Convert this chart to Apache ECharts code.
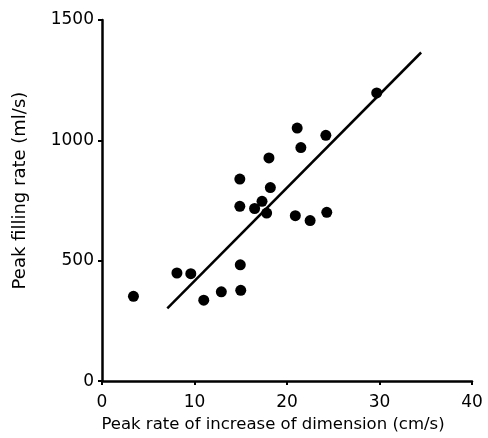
<!DOCTYPE html>
<html>
<head>
<meta charset="utf-8">
<script src="https://cdn.jsdelivr.net/npm/echarts@6/dist/echarts.min.js"></script>
<style>
html,body{margin:0;padding:0;background:#fff;}
#chart{width:488px;height:438px;}
</style>
</head>
<body>
<div id="chart"></div>
<script>
const xValues = [3.4, 8.1, 9.6, 11.0, 12.9, 15.0, 14.95, 14.9, 14.9, 16.5, 17.3, 17.8, 18.2, 18.05, 20.9, 21.1, 21.5, 22.5, 24.3, 24.2, 29.7];
const yValues = [352, 449, 446, 336, 371, 377, 483, 726, 839, 717, 747, 698, 804, 927, 687, 1051, 970, 667, 701, 1021, 1197];
const fitX = [7.06, 34.5];
const fitY = [302, 1365];
const xTicks = [0, 10, 20, 30, 40];
const yTicks = [0, 500, 1000, 1500];
const xTitle = 'Peak rate of increase of dimension (cm/s)';
const yTitle = 'Peak filling rate (ml/s)';

const font = 'DejaVu Sans';
const chart = echarts.init(document.getElementById('chart'), null, {renderer: 'canvas'});
chart.setOption({
  animation: false,
  backgroundColor: '#fff',
  grid: {left: 102, right: 16, top: 20, bottom: 55},
  xAxis: {
    type: 'value', min: 0, max: 40, interval: 10,
    name: xTitle, nameLocation: 'middle', nameGap: 28,
    nameTextStyle: {fontFamily: font, fontSize: 16.5, color: '#000', padding: [0, 28, 0, 0]},
    axisLine: {show: true, lineStyle: {color: '#000', width: 2.5}},
    axisTick: {show: true, length: 4, lineStyle: {color: '#000', width: 2}},
    axisLabel: {fontFamily: font, fontSize: 17, color: '#000', margin: 13,
      formatter: v => xTicks.includes(v) ? String(v) : ''},
    splitLine: {show: false}
  },
  yAxis: {
    type: 'value', min: 0, max: 1500, interval: 500,
    name: yTitle, nameLocation: 'middle', nameGap: 73, nameRotate: 90,
    nameTextStyle: {fontFamily: font, fontSize: 18, color: '#000', padding: [0, 0, 0, 20]},
    axisLine: {show: true, lineStyle: {color: '#000', width: 2.5}},
    axisTick: {show: true, length: 4, lineStyle: {color: '#000', width: 2}},
    axisLabel: {fontFamily: font, fontSize: 17, color: '#000', margin: 8,
      formatter: v => yTicks.includes(v) ? String(v) : ''},
    splitLine: {show: false}
  },
  series: [
    {
      type: 'scatter',
      data: xValues.map((x, i) => [x, yValues[i]]),
      symbol: 'circle', symbolSize: 11,
      itemStyle: {color: '#000', opacity: 1}
    },
    {
      type: 'line',
      data: fitX.map((x, i) => [x, fitY[i]]),
      symbol: 'none',
      lineStyle: {color: '#000', width: 2.5}
    }
  ]
});
</script>
</body>
</html>
